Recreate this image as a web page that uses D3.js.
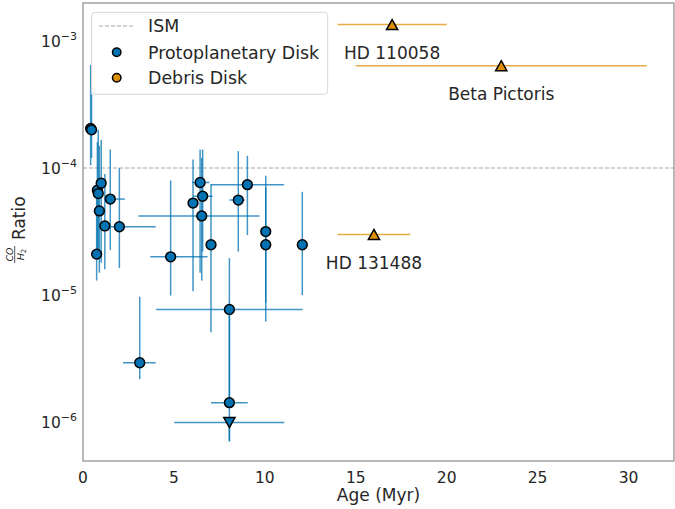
<!DOCTYPE html>
<html>
<head>
<meta charset="utf-8">
<script src="https://cdn.jsdelivr.net/npm/d3@7"></script>
<style>
  html, body { margin: 0; padding: 0; background: #ffffff; }
  svg { display: block; font-family: "DejaVu Sans", sans-serif; }
</style>
</head>
<body>
<svg id="chart" width="675" height="509"></svg>
<script>
// Protoplanetary disks: age (Myr) with asymmetric ranges, CO/H2 ratio with ranges
const ppdAge      = [0.42, 0.47, 0.75, 0.79, 0.84, 0.90, 1.00, 1.20, 1.50, 2.00, 3.12, 4.82, 6.05, 6.44, 6.58, 6.53, 7.04, 8.05, 8.05, 8.05, 8.54, 9.04, 10.05, 10.05, 12.06];
const ppdAgeLo    = [0.42, 0.47, 0.75, 0.79, 0.84, 0.90, 1.00, 1.20, 1.20, 1.00, 2.20, 3.70, 6.05, 6.00, 6.07, 3.04, 7.04, 4.02, 7.04, 5.02, 8.05, 7.04, 10.05, 10.05, 12.06];
const ppdAgeHi    = [0.42, 0.47, 0.75, 0.79, 0.84, 0.90, 1.00, 1.20, 2.30, 4.00, 4.00, 6.85, 6.05, 6.95, 7.13, 9.70, 7.04, 12.08, 9.06, 11.07, 8.90, 11.06, 10.05, 10.05, 12.06];
const ppdRatio    = [2.05e-4, 2.0e-4, 2.1e-5, 6.7e-5, 6.3e-5, 4.6e-5, 7.6e-5, 3.5e-5, 5.7e-5, 3.45e-5, 2.93e-6, 2.0e-5, 5.3e-5, 7.7e-5, 6.0e-5, 4.2e-5, 2.49e-5, 7.7e-6, 1.42e-6, 9.9e-7, 5.6e-5, 7.4e-5, 3.16e-5, 2.49e-5, 2.49e-5];
const ppdRatioLo  = [1.05e-4, 1.2e-4, 1.3e-5, 2.2e-5, 1.9e-5, 1.5e-5, 1.8e-5, 1.6e-5, 2.26e-5, 1.63e-5, 2.18e-6, 9.9e-6, 1.07e-5, 1.5e-5, 2.2e-5, 1.3e-5, 5.1e-6, 1.4e-6, 7.0e-7, 7.1e-7, 2.2e-5, 2.97e-5, 8.7e-6, 6.2e-6, 1.0e-5];
const ppdRatioHi  = [6.5e-4, 3.8e-4, 6.0e-5, 1.6e-4, 2.0e-4, 1.5e-4, 1.66e-4, 9.0e-5, 1.4e-4, 1.0e-4, 9.7e-6, 8.0e-5, 1.17e-4, 1.4e-4, 1.4e-4, 1.2e-4, 7.5e-5, 1.95e-5, 7.7e-6, 9.9e-7, 1.36e-4, 1.25e-4, 8.7e-5, 7.0e-5, 6.5e-5];
const ppdUpperLimit = [false, false, false, false, false, false, false, false, false, false, false, false, false, false, false, false, false, false, false, true, false, false, false, false, false];

// Debris disks
const debrisNames  = ["HD 110058", "Beta Pictoris", "HD 131488"];
const debrisAge    = [17, 23, 16];
const debrisAgeErr = [3, 8, 2];
const debrisRatio  = [1.35e-3, 6.4e-4, 3.0e-5];

// Interstellar medium reference value
const ismRatio = 1e-4;

// Axis ticks and text
const xTicks = [0, 5, 10, 15, 20, 25, 30];
const yTickExponents = [-3, -4, -5, -6];
const legendLabels = ["ISM", "Protoplanetary Disk", "Debris Disk"];
const xLabel = "Age (Myr)";

const blue = "#0173b2";
const orange = "#de8f05";
const textColor = "#262626";

const margin = { left: 83, right: 674, top: 3, bottom: 461 };

const x = d3.scaleLinear().domain([0, 32.5]).range([margin.left, margin.right]);
const y = d3.scaleLog().domain([Math.pow(10, -6.307), Math.pow(10, -2.70)]).range([margin.bottom, margin.top]);

const svg = d3.select("#chart");
svg.append("rect").attr("width", 675).attr("height", 509).attr("fill", "#ffffff");

// Clip region for plot content
svg.append("defs").append("clipPath").attr("id", "plotClip")
  .append("rect")
  .attr("x", margin.left).attr("y", margin.top)
  .attr("width", margin.right - margin.left).attr("height", margin.bottom - margin.top);

const plot = svg.append("g").attr("clip-path", "url(#plotClip)");

// ISM reference line
plot.append("line")
  .attr("x1", margin.left).attr("x2", margin.right)
  .attr("y1", y(ismRatio)).attr("y2", y(ismRatio))
  .attr("stroke", "#a6a6a6").attr("stroke-width", 1.1)
  .attr("stroke-dasharray", "4,2");

// Protoplanetary disk error bars
const ppd = ppdAge.map((a, i) => ({
  age: a, ageLo: ppdAgeLo[i], ageHi: ppdAgeHi[i],
  r: ppdRatio[i], rLo: ppdRatioLo[i], rHi: ppdRatioHi[i], ul: ppdUpperLimit[i]
}));

const errG = plot.append("g").attr("stroke", blue).attr("stroke-opacity", 0.75).attr("stroke-width", 1.5);
ppd.forEach(d => {
  if (d.rHi !== d.rLo) {
    errG.append("line").attr("x1", x(d.age)).attr("x2", x(d.age))
      .attr("y1", y(d.rLo)).attr("y2", y(d.rHi));
  }
  if (d.ageHi !== d.ageLo) {
    errG.append("line").attr("x1", x(d.ageLo)).attr("x2", x(d.ageHi))
      .attr("y1", y(d.r)).attr("y2", y(d.r));
  }
});

// Debris disk error bars
const debris = debrisNames.map((n, i) => ({ name: n, age: debrisAge[i], err: debrisAgeErr[i], r: debrisRatio[i] }));
plot.append("g").attr("stroke", orange).attr("stroke-opacity", 0.75).attr("stroke-width", 1.5)
  .selectAll("line").data(debris).join("line")
  .attr("x1", d => x(d.age - d.err)).attr("x2", d => x(d.age + d.err))
  .attr("y1", d => y(d.r)).attr("y2", d => y(d.r));

// Markers
function triUp(cx, cy) {
  const w = 5.6, h = 5.0;
  return `M${cx},${cy - h}L${cx + w},${cy + h}L${cx - w},${cy + h}Z`;
}
function triDown(cx, cy) {
  const w = 5.6, h = 5.0;
  return `M${cx},${cy + h}L${cx + w},${cy - h}L${cx - w},${cy - h}Z`;
}

plot.append("g").selectAll("circle").data(ppd.filter(d => !d.ul)).join("circle")
  .attr("cx", d => x(d.age)).attr("cy", d => y(d.r)).attr("r", 4.9)
  .attr("fill", blue).attr("stroke", "#000").attr("stroke-width", 1.5);

plot.append("g").selectAll("path").data(ppd.filter(d => d.ul)).join("path")
  .attr("d", d => triDown(x(d.age), y(d.r)))
  .attr("fill", blue).attr("stroke", "#000").attr("stroke-width", 1.5).attr("stroke-linejoin", "miter");

plot.append("g").selectAll("path").data(debris).join("path")
  .attr("d", d => triUp(x(d.age), y(d.r)))
  .attr("fill", orange).attr("stroke", "#000").attr("stroke-width", 1.5);

// Debris disk names
svg.append("g").selectAll("text").data(debris).join("text")
  .attr("x", d => x(d.age)).attr("y", d => y(d.r) + 34.6)
  .attr("text-anchor", "middle").attr("font-size", 17).attr("fill", textColor)
  .text(d => d.name);

// Frame
svg.append("rect")
  .attr("x", margin.left).attr("y", margin.top)
  .attr("width", margin.right - margin.left).attr("height", margin.bottom - margin.top)
  .attr("fill", "none").attr("stroke", "#8a8a8a").attr("stroke-width", 1.2);

// X axis tick labels
svg.append("g").selectAll("text").data(xTicks).join("text")
  .attr("x", d => x(d)).attr("y", margin.bottom + 21.5)
  .attr("text-anchor", "middle").attr("font-size", 15.5).attr("fill", textColor)
  .text(d => d);

svg.append("text")
  .attr("x", (margin.left + margin.right) / 2).attr("y", 501)
  .attr("text-anchor", "middle").attr("font-size", 17).attr("fill", textColor)
  .text(xLabel);

// Y axis tick labels (powers of ten)
const yt = svg.append("g").selectAll("text").data(yTickExponents).join("text")
  .attr("x", margin.left - 6).attr("y", d => y(Math.pow(10, d)) + 5.7)
  .attr("text-anchor", "end").attr("font-size", 15.5).attr("fill", textColor);
yt.append("tspan").text("10");
yt.append("tspan").attr("font-size", 11).attr("dy", -7).text(d => "\u2212" + Math.abs(d));

// Y axis label: CO/H2 fraction followed by "Ratio"
const yl = svg.append("g").attr("transform", `translate(19, ${(margin.top + margin.bottom) / 2}) rotate(-90)`);
yl.append("text").attr("x", -8).attr("y", 6.2).attr("font-size", 17).attr("fill", textColor).text("Ratio");
const fracCx = -22.5;
yl.append("text").attr("x", fracCx).attr("y", -6.2).attr("text-anchor", "middle")
  .attr("font-size", 9.5).attr("font-style", "italic").attr("fill", textColor).text("CO");
yl.append("line").attr("x1", fracCx - 8.5).attr("x2", fracCx + 8.5).attr("y1", -4.3).attr("y2", -4.3)
  .attr("stroke", textColor).attr("stroke-width", 0.8);
const den = yl.append("text").attr("x", fracCx).attr("y", 4.6).attr("text-anchor", "middle")
  .attr("font-size", 9.5).attr("font-style", "italic").attr("fill", textColor);
den.append("tspan").text("H");
den.append("tspan").attr("font-size", 7).attr("dy", 2).attr("font-style", "normal").text("2");

// Legend
const lg = svg.append("g");
lg.append("rect").attr("x", 91.7).attr("y", 12.3).attr("width", 236).attr("height", 82).attr("rx", 3.5)
  .attr("fill", "#ffffff").attr("fill-opacity", 0.8).attr("stroke", "#d6d6d6").attr("stroke-width", 1);
const rowY = [26, 52.3, 77.7];
lg.append("line").attr("x1", 99).attr("x2", 133.5).attr("y1", rowY[0]).attr("y2", rowY[0])
  .attr("stroke", "#a6a6a6").attr("stroke-width", 1.1).attr("stroke-dasharray", "4,2");
lg.append("circle").attr("cx", 116.7).attr("cy", rowY[1]).attr("r", 4.2)
  .attr("fill", blue).attr("stroke", "#000").attr("stroke-width", 1.5);
lg.append("circle").attr("cx", 116.7).attr("cy", rowY[2]).attr("r", 4.2)
  .attr("fill", orange).attr("stroke", "#000").attr("stroke-width", 1.5);
lg.selectAll("text.lab").data(legendLabels).join("text").attr("class", "lab")
  .attr("x", 148).attr("y", (d, i) => rowY[i] + 6.3)
  .attr("font-size", 17.4).attr("fill", textColor)
  .text(d => d);
</script>
</body>
</html>
